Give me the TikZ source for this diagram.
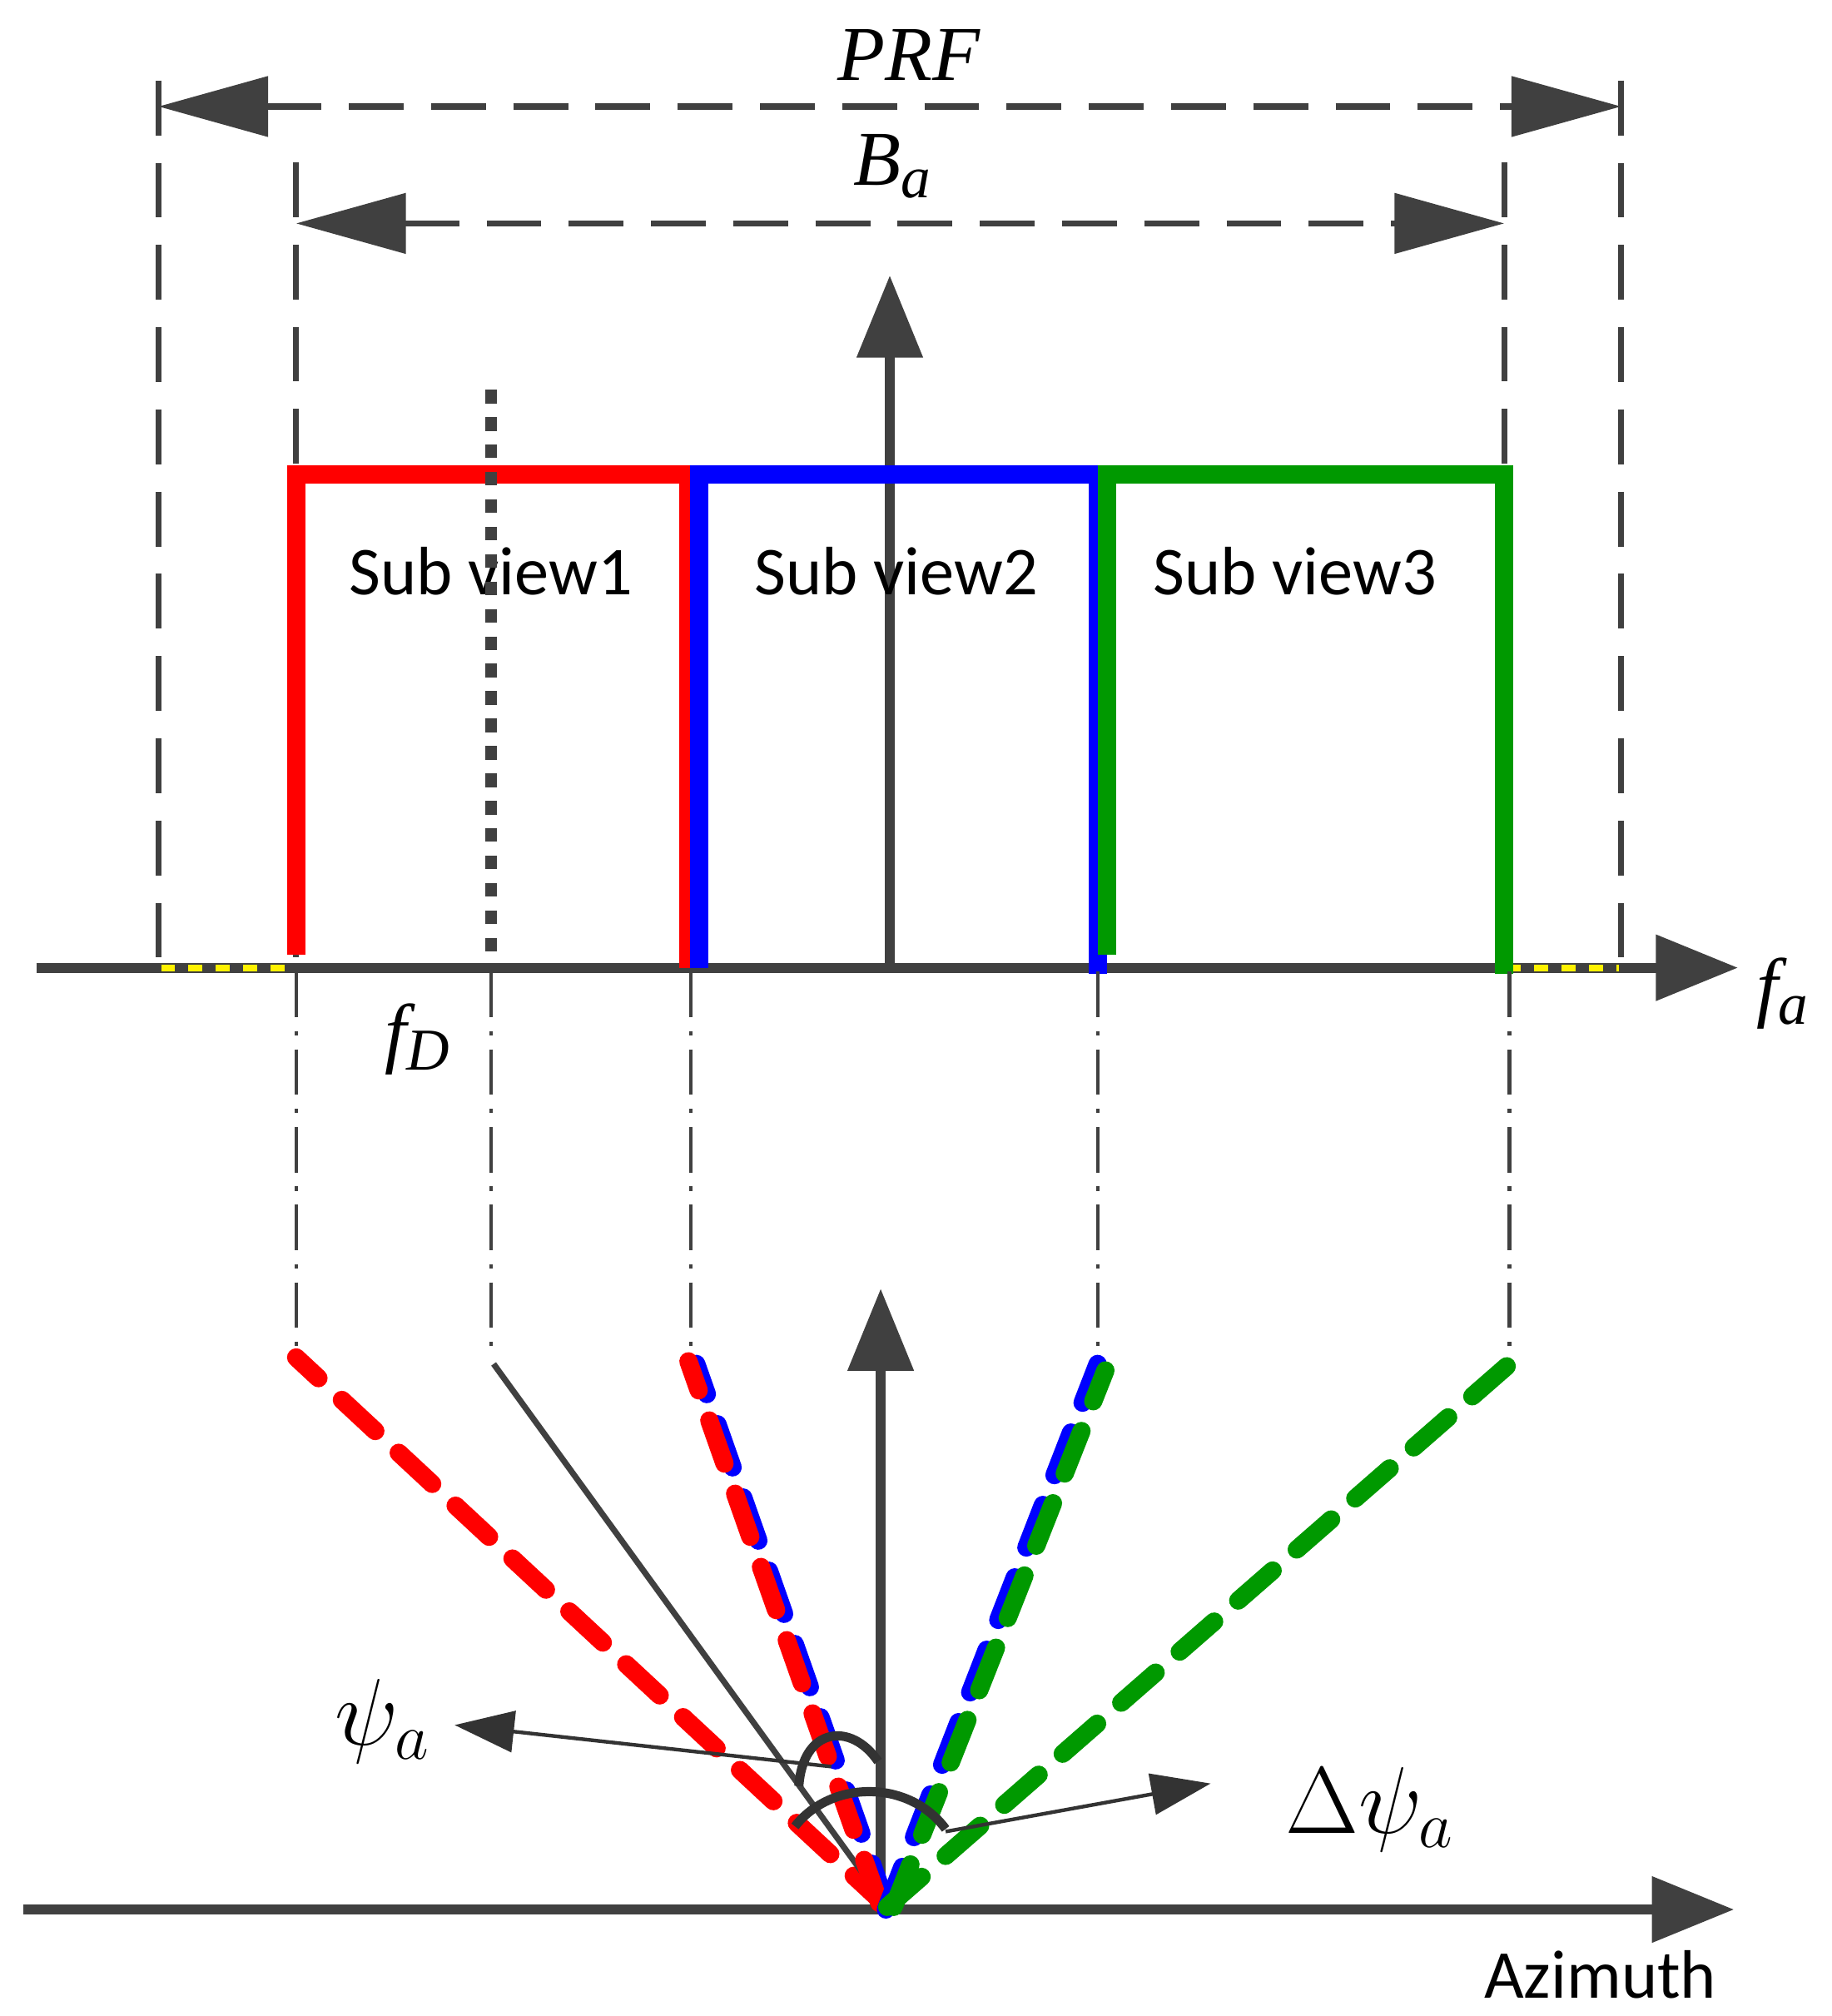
\documentclass[tikz,border=0pt]{standalone}
\usepackage{fontspec}
\setmainfont{Liberation Serif}
\newfontfamily\subfont{Carlito}
\usetikzlibrary{arrows.meta,calc,positioning}
\tikzset{
  axisline/.style={draw=black!75,line width=2.2pt,-{Triangle[length=18pt,width=14pt]}},
  bracket/.style={draw=black!75,line width=1.3pt,dash pattern=on 12pt off 6pt},
  dimarrow/.style={draw=black!75,line width=1.3pt,dash pattern=on 12pt off 6pt,
    {Triangle[length=24pt,width=13pt]}-{Triangle[length=24pt,width=13pt]}},
  proj/.style={draw=black!75,line width=0.8pt,dash pattern=on 10pt off 3pt on 1pt off 3pt},
  band/.style={line width=4pt},
  beam/.style={line width=4pt,dash pattern=on 10pt off 7pt,line cap=round},
  lbl/.style={font=\fontsize{17}{17}\selectfont\itshape},
  sub/.style={font=\subfont\fontsize{15}{15}\selectfont},
}
\begin{document}
\begin{tikzpicture}[x=0.01cm,y=-0.01cm]
  \useasboundingbox (0,0) rectangle (1410,1552);

  % frequency axis
  \coordinate (fa_start) at (28,745);
  \coordinate (fa_end) at (1338,745);
  \draw[axisline] (fa_start) -- (fa_end);
  \node[lbl,anchor=west] (fa_lbl) at (1340,765) {f\textsubscript{\fontsize{13}{13}\selectfont a}};
  \coordinate (center_bot) at (685,745);
  \coordinate (center_top) at (685,212);
  \draw[axisline] (center_bot) -- (center_top);

  % PRF and Ba brackets
  \foreach \x/\top in {122/62,1248/62,228/125,1158/125}
    \draw[bracket] (\x,\top) -- (\x,745);
  \coordinate (prf_l) at (122,82);
  \coordinate (prf_r) at (1248,82);
  \draw[dimarrow] (prf_l) -- (prf_r);
  \node[lbl] (prf_lbl) at (700,42) {PRF};
  \coordinate (ba_l) at (228,172);
  \coordinate (ba_r) at (1158,172);
  \draw[dimarrow] (ba_l) -- (ba_r);
  \node[lbl] (ba_lbl) at (688,128) {B\textsubscript{\fontsize{13}{13}\selectfont a}};

  % yellow outside band
  \draw[yellow,line width=1.5pt,dash pattern=on 3pt off 3pt] (124,745) -- (226,745);
  \draw[yellow,line width=1.5pt,dash pattern=on 3pt off 3pt] (1160,745) -- (1246,745);

  % sub views
  \draw[band,red] (228,735) -- (228,365) -- (530,365) -- (530,745);
  \draw[band,blue] (538,745) -- (538,365) -- (845,365) -- (845,750);
  \draw[band,green!60!black] (852,735) -- (852,365) -- (1158,365) -- (1158,750);
  \node[sub] (sv1) at (378,440) {Sub view1};
  \node[sub] (sv2) at (690,440) {Sub view2};
  \node[sub] (sv3) at (997,440) {Sub view3};

  % Doppler centroid
  \draw[black!75,line width=2.5pt,dash pattern=on 3pt off 3pt] (378,300) -- (378,745);
  \node[lbl] (fd_lbl) at (322,800) {f\textsubscript{\fontsize{13}{13}\selectfont D}};

  % projections
  \foreach \x in {228,378,532,845,1162}
    \draw[proj] (\x,748) -- (\x,1045);

  % beams
  \coordinate (orig) at (683,1468);
  \draw[axisline] (18,1470) -- (1335,1470);
  \node[sub] (az_lbl) at (1232,1520) {Azimuth};
  \draw[axisline] (678,1470) -- (678,992);
  \draw[beam,red] (orig) -- (228,1045);
  \draw[black!75,line width=1.3pt] (orig) -- (380,1050);
  \draw[beam,blue] (orig) -- (536,1050);
  \draw[beam,red] (677,1465) -- (530,1048);
  \draw[beam,blue] (682,1470) -- (845,1050);
  \draw[beam,green!60!black] (688,1468) -- (851,1055);
  \draw[beam,green!60!black] (orig) -- (1162,1050);

  % angles
  \draw[black!80,line width=2pt] (615,1375) .. controls (618,1330) and (655,1325) .. (676,1356);
  \draw[black!80,line width=2pt] (612,1406) .. controls (640,1370) and (700,1370) .. (728,1408);
  \coordinate (psi_from) at (640,1360);
  \coordinate (psi_to) at (350,1328);
  \draw[black!80,line width=0.8pt,-{Triangle[length=13pt,width=9pt]}] (psi_from) -- (psi_to);
  \node[lbl,font=\fontsize{22}{22}\selectfont] (psi_lbl) at (295,1325) {$\psi_a$};
  \coordinate (dpsi_from) at (728,1410);
  \coordinate (dpsi_to) at (932,1373);
  \draw[black!80,line width=0.8pt,-{Triangle[length=13pt,width=9pt]}] (dpsi_from) -- (dpsi_to);
  \node[lbl,font=\fontsize{22}{22}\selectfont] (dpsi_lbl) at (1055,1393) {$\Delta\psi_a$};
\end{tikzpicture}
\end{document}
